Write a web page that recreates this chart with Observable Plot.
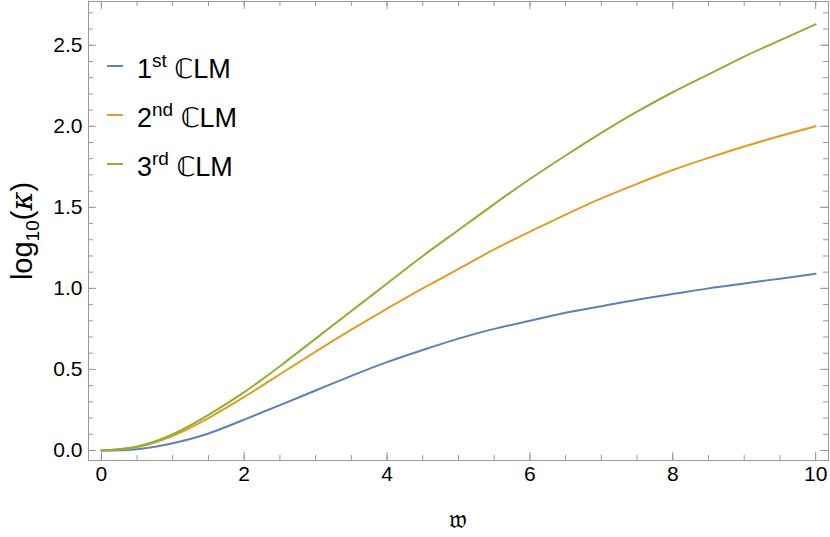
<!DOCTYPE html>
<html>
<head>
<meta charset="utf-8">
<script src="https://cdn.jsdelivr.net/npm/d3@7"></script>
<script src="https://cdn.jsdelivr.net/npm/@observablehq/plot@0.6"></script>
<style>
  html, body { margin: 0; padding: 0; background: #fff; }
  #chart { width: 830px; height: 537px; }
</style>
</head>
<body>
<div id="chart"></div>
<script>
// Data
const xs = [0, 0.5, 1, 1.5, 2, 2.5, 3, 3.5, 4, 4.5, 5, 5.5, 6, 6.5, 7, 7.5, 8, 8.5, 9, 9.5, 10];
const clm1 = [0, 0.008, 0.045, 0.105, 0.19, 0.28, 0.37, 0.46, 0.545, 0.62, 0.69, 0.75, 0.80, 0.85, 0.89, 0.93, 0.965, 1.00, 1.03, 1.06, 1.09];
const clm2 = [0, 0.02, 0.09, 0.20, 0.33, 0.47, 0.61, 0.745, 0.875, 1.00, 1.12, 1.24, 1.35, 1.455, 1.555, 1.645, 1.73, 1.805, 1.875, 1.94, 2.00];
const clm3 = [0, 0.025, 0.10, 0.22, 0.36, 0.52, 0.69, 0.86, 1.03, 1.20, 1.36, 1.52, 1.675, 1.82, 1.96, 2.09, 2.21, 2.32, 2.43, 2.53, 2.63];
const seriesNames = ["1st", "2nd", "3rd"];
const seriesColors = ["#5E81B5", "#E19C24", "#8FB032"];
const xMajor = [0, 2, 4, 6, 8, 10];
const xMinor = d3.range(0, 10.001, 0.5);
const yMajor = [0, 0.5, 1, 1.5, 2, 2.5];
const yMinor = d3.range(0, 2.7501, 0.1).map(v => +v.toFixed(2));

const seriesValues = [clm1, clm2, clm3];
const rows = [];
seriesValues.forEach((vals, i) => vals.forEach((v, j) => rows.push({x: xs[j], y: v, s: seriesNames[i]})));

const W = 830, H = 537, mL = 88, mR = 2, mT = 1, mB = 77;
const frameW = W - mL - mR, frameH = H - mT - mB;
const frameColor = "#999999";
const fmtY = d => d.toFixed(1);

// inward ticks on all four sides, via tick marks with insets
function ticksX(vals, len, side) {
  const o = {x: d => d, stroke: frameColor, strokeWidth: 1};
  if (side === "bottom") o.insetTop = frameH - len; else o.insetBottom = frameH - len;
  return Plot.tickX(vals, o);
}
function ticksY(vals, len, side) {
  const o = {y: d => d, stroke: frameColor, strokeWidth: 1};
  if (side === "left") o.insetRight = frameW - len; else o.insetLeft = frameW - len;
  return Plot.tickY(vals, o);
}

const plot = Plot.plot({
  width: W,
  height: H,
  marginLeft: mL,
  marginRight: mR,
  marginTop: mT,
  marginBottom: mB,
  style: {fontFamily: "'Liberation Sans', Arial, sans-serif", fontSize: "21px", background: "#fff"},
  x: {domain: [-0.18, 10.18]},
  y: {domain: [-0.062, 2.77]},
  color: {domain: seriesNames, range: seriesColors},
  marks: [
    Plot.frame({stroke: frameColor}),
    ticksX(xMinor, 5, "bottom"), ticksX(xMinor, 5, "top"),
    ticksY(yMinor, 5, "left"), ticksY(yMinor, 5, "right"),
    ticksX(xMajor, 8, "bottom"), ticksX(xMajor, 8, "top"),
    ticksY(yMajor, 8, "left"), ticksY(yMajor, 8, "right"),
    Plot.axisX(xMajor, {anchor: "bottom", tickSize: 0, tickPadding: 6, stroke: "none", fill: "#000", label: null, tickFormat: d => String(d)}),
    Plot.axisY(yMajor, {anchor: "left", tickSize: 0, tickPadding: 6, stroke: "none", fill: "#000", label: null, tickFormat: fmtY}),
    Plot.line(rows, {x: "x", y: "y", z: "s", stroke: "s", strokeWidth: 2, curve: "natural"})
  ]
});

document.getElementById("chart").appendChild(plot);

const svg = d3.select(plot);
const font = "'Liberation Sans', Arial, sans-serif";

// y-axis label: log10(κ)
const yl = svg.append("text")
  .attr("transform", "translate(32,231) rotate(-90)")
  .attr("text-anchor", "middle")
  .attr("font-family", font)
  .attr("font-size", 29)
  .attr("fill", "#000");
yl.append("tspan").text("log");
yl.append("tspan").attr("font-size", 19).attr("dy", 7).text("10");
yl.append("tspan").attr("dy", -7).text("(");
yl.append("tspan").attr("font-family", "'DejaVu Serif', serif").attr("font-style", "italic").text("κ");
yl.append("tspan").text(")");

// x-axis label: fraktur w
svg.append("text")
  .attr("x", 458)
  .attr("y", 528)
  .attr("text-anchor", "middle")
  .attr("font-family", "'DejaVu Serif', serif")
  .attr("font-size", 26)
  .attr("fill", "#000")
  .text("\u{1D534}");

// legend
const legendY = [66, 115, 164];
const sups = ["st", "nd", "rd"];
const nums = ["1", "2", "3"];
seriesNames.forEach((name, i) => {
  const g = svg.append("g");
  g.append("line")
    .attr("x1", 107).attr("x2", 123)
    .attr("y1", legendY[i]).attr("y2", legendY[i])
    .attr("stroke", seriesColors[i]).attr("stroke-width", 2);
  const t = g.append("text")
    .attr("x", 137).attr("y", legendY[i] + 12)
    .attr("text-anchor", "start")
    .attr("font-family", font).attr("font-size", 27).attr("fill", "#000");
  t.append("tspan").text(nums[i]);
  t.append("tspan").attr("font-size", 19).attr("dy", -11).text(sups[i]);
  t.append("tspan").attr("dy", 11).text(" ");
  t.append("tspan").attr("font-family", "'DejaVu Sans', sans-serif").text("\u2102");
  t.append("tspan").text("LM");
});
</script>
</body>
</html>
